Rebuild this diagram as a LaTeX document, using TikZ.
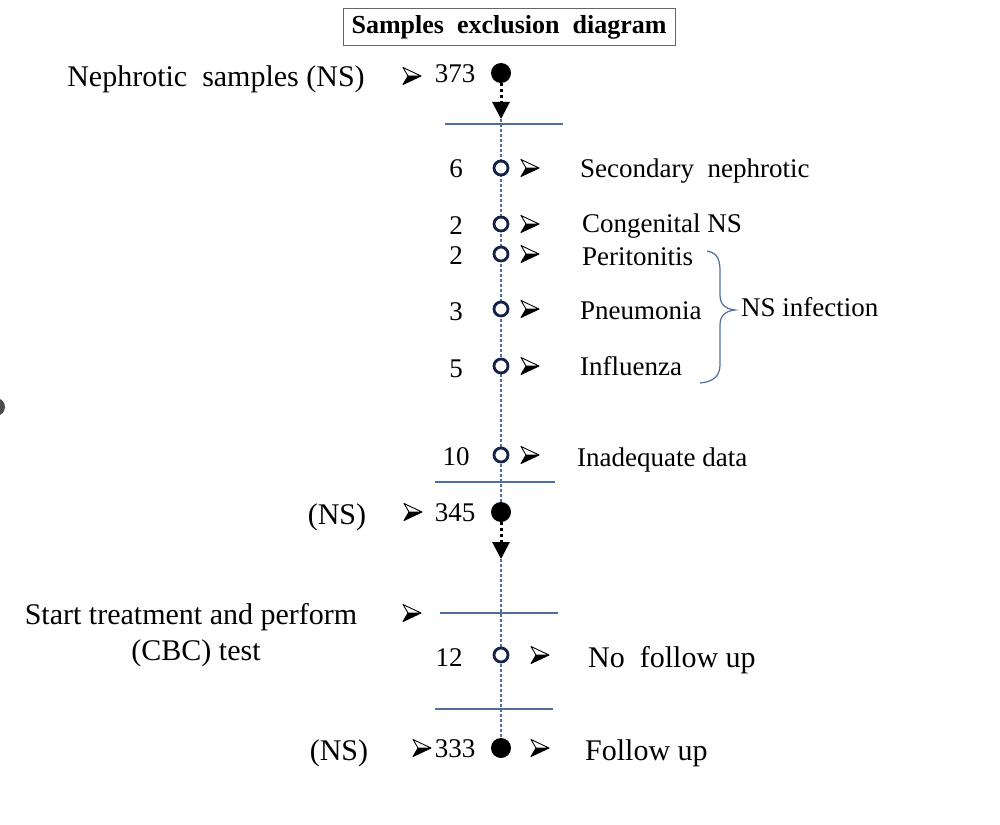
\documentclass[tikz,border=0pt]{standalone}
\usepackage{fontspec}
\setmainfont{Liberation Serif}
\usetikzlibrary{arrows.meta}
\definecolor{linec}{RGB}{80,110,155}
\definecolor{circc}{RGB}{20,35,70}
\begin{document}
\begin{tikzpicture}[x=1pt,y=-1pt,
  txt/.style={font=\fontsize{27}{30}\selectfont, inner sep=0pt, anchor=base},
  txtl/.style={txt, anchor=base west},
  bigtxt/.style={txt, font=\fontsize{30}{34}\selectfont},
  bigtxtl/.style={bigtxt, anchor=base west},
  fdot/.style={circle, fill=black, minimum size=20pt, inner sep=0pt},
  odot/.style={circle, draw=circc, line width=2.8pt, fill=white, minimum size=14pt, inner sep=0pt},
  hline/.style={draw=linec, line width=1.4pt},
  vdash/.style={draw=linec, line width=1.1pt, dash pattern=on 3pt off 2pt},
  dotarrow/.style={line width=3pt, dash pattern=on 3pt off 3pt, -{Triangle[width=17pt,length=17pt]}},
  dart/.pic={
    \filldraw[fill=white, draw=black, line width=0.9pt, line join=round] (9,0) -- (-9,-8.5) -- (-4,0) -- cycle;
    \fill[black] (9,0) -- (-4,0) -- (-9,8.5) -- cycle;
    \draw[black, line width=0.9pt, line join=round] (9,0) -- (-9,8.5) -- (-4,0);
  }
]
\useasboundingbox (0,0) rectangle (1000,824);
% partial shape at left edge
\fill[black!70] (-4,407) circle (9pt);

% title
\node[draw=black!60, line width=1pt, inner xsep=8pt, inner ysep=5pt, minimum width=332pt, minimum height=37pt, font=\bfseries\fontsize{26}{30}\selectfont] (title) at (509,27) {Samples\ \ exclusion\ \ diagram};

% coordinates of the horizontal bars
\coordinate (a1) at (445,124); \coordinate (a2) at (563,124);
\coordinate (b1) at (435,482); \coordinate (b2) at (555,482);
\coordinate (c1) at (440,613); \coordinate (c2) at (558,613);
\coordinate (d1) at (435,709); \coordinate (d2) at (553,709);
\coordinate (tipA) at (501,119);
\coordinate (tipB) at (501,559);

% vertical dashed lines
\draw[vdash] (tipA) -- (501,502);
\draw[vdash] (tipB) -- (501,740);

% bars
\draw[hline] (a1) -- (a2);
\draw[hline] (b1) -- (b2);
\draw[hline] (c1) -- (c2);
\draw[hline] (d1) -- (d2);

% dots
\node[fdot] (dA) at (501,73) {};
\node[fdot] (dB) at (501,512) {};
\node[fdot] (dC) at (501,748) {};
\draw[dotarrow] (dA) -- (tipA);
\draw[dotarrow] (dB) -- (tipB);

\node[odot] (o1) at (501,168) {};
\node[odot] (o2) at (501,224) {};
\node[odot] (o3) at (501,254) {};
\node[odot] (o4) at (501,309) {};
\node[odot] (o5) at (501,366) {};
\node[odot] (o6) at (501,455) {};
\node[odot] (o7) at (501,655) {};

% top row
\node[bigtxt] (ns1) at (216,87) {Nephrotic\ \ samples (NS)};
\pic (ar0) at (412,76) {dart};
\node[txt] (n373) at (455,83) {373};

% exclusion rows
\node[txt] (n6) at (456,177) {6};
\pic (ar1) at (530,168) {dart};
\node[txtl] (l1) at (580,177) {Secondary\ \ nephrotic};

\node[txt] (n2a) at (456,234) {2};
\pic (ar2) at (530,224) {dart};
\node[txtl] (l2) at (582,232) {Congenital NS};

\node[txt] (n2b) at (456,264) {2};
\pic (ar3) at (530,254) {dart};
\node[txtl] (l3) at (582,265) {Peritonitis};

\node[txt] (n3) at (456,320) {3};
\pic (ar4) at (530,309) {dart};
\node[txtl] (l4) at (580,319) {Pneumonia};

\node[txt] (n5) at (456,377) {5};
\pic (ar5) at (530,366) {dart};
\node[txtl] (l5) at (580,375) {Influenza};

\node[txt] (n10) at (456,465) {10};
\pic (ar6) at (530,455) {dart};
\node[txtl] (l6) at (577,466) {Inadequate data};

% brace
\draw[draw=linec, line width=1.2pt] (707,251) .. controls (718,253) and (720,260) .. (720,272)
  -- (720,295) .. controls (720,305) and (726,309) .. (735,310)
  .. controls (726,311) and (720,315) .. (720,325)
  -- (720,365) .. controls (720,377) and (712,382) .. (700,383);
\node[txtl] (inf) at (741,316) {NS infection};

% second block
\node[bigtxt] (ns2) at (337,524) {(NS)};
\pic (ar7) at (413,512) {dart};
\node[txt] (n345) at (455,521) {345};

\node[bigtxt] (st1) at (191,624) {Start treatment and perform};
\node[bigtxt] (st2) at (196,660) {(CBC) test};
\pic (ar8) at (412,613) {dart};

\node[txt] (n12) at (449,666) {12};
\pic (ar9) at (540,655) {dart};
\node[bigtxtl] (l7) at (588,667) {No\ \ follow up};

\node[bigtxt] (ns3) at (339,760) {(NS)};
\pic (ar10) at (422,748) {dart};
\node[txt] (n333) at (455,757) {333};
\pic (ar11) at (540,748) {dart};
\node[bigtxtl] (l8) at (585,760) {Follow up};
\end{tikzpicture}
\end{document}
